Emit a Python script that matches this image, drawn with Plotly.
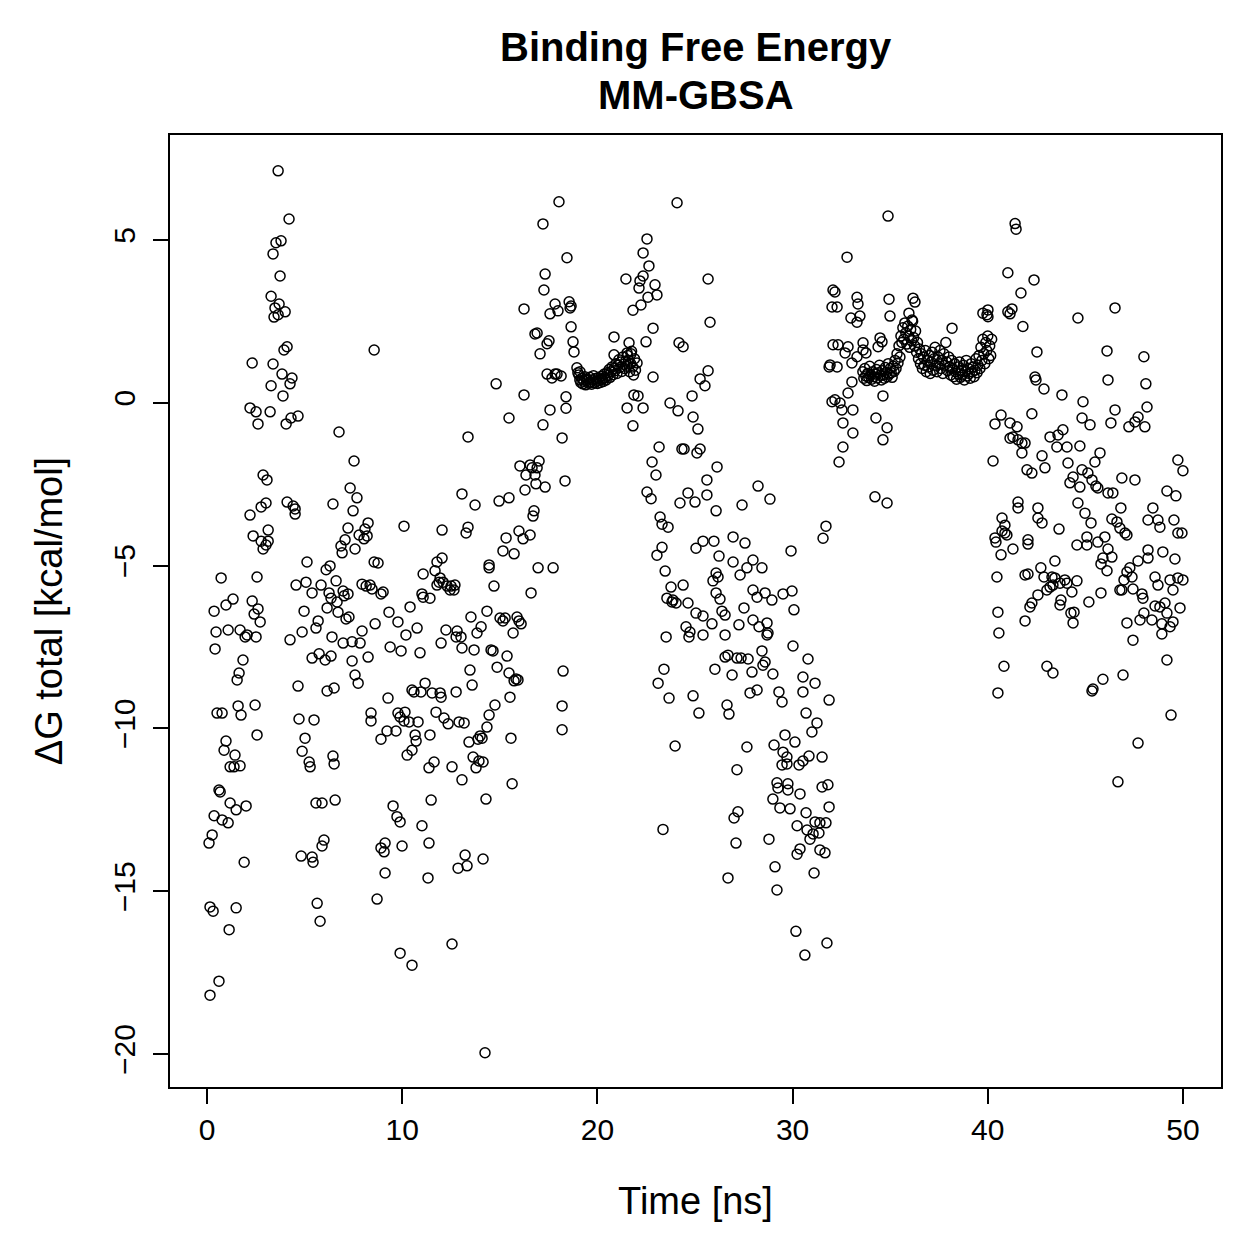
import plotly.graph_objects as go

# ---------------- data (time in ns, dG total in kcal/mol) ----------------
t_seg1 = [0.10,0.15,0.15,0.26,0.31,0.36,0.36,0.46,0.41,0.51,0.61,0.67,0.61,0.72,0.77,0.77,0.87,0.97,0.97,1.08,
          1.08,1.13,1.18,1.18,1.33,1.38,1.43,1.49,1.49,1.54,1.64,1.69,1.59,1.69,1.74,1.84,1.95,1.90,2.00,2.05,
          2.20,2.31,2.20,2.36,2.31,2.41,2.46,2.51,2.51,2.56,2.61,2.56,2.72,2.61,2.77,2.77,2.87,2.87,3.07,3.02,
          3.02,3.13,3.13,3.23,3.28,3.28,3.38,3.38,3.48,3.43,3.53,3.64,3.64,3.69,3.74,3.79,3.84,3.89,4.00,3.94,
          4.10,4.05,4.10,4.25,4.20,4.30,4.35,4.41,4.51,4.51,4.25,4.66]
dg_seg1 = [-13.52,-18.19,-15.48,-13.27,-15.61,-12.68,-6.40,-7.04,-7.56,-9.53,-11.89,-11.95,-17.76,-5.38,-9.53,-12.81,-10.67,-10.39,-6.21,-6.98,
           -12.90,-16.18,-12.29,-11.18,-6.03,-11.18,-10.82,-12.50,-15.51,-8.51,-8.30,-6.98,-9.31,-11.15,-9.59,-7.90,-7.19,-14.11,-12.38,-7.13,
           -0.16,1.22,-3.45,-4.09,-6.09,-6.49,-9.28,-7.19,-0.28,-5.35,-6.33,-10.20,-6.73,-0.65,-3.20,-4.25,-4.49,-2.22,-2.37,-3.08,
           -4.37,-3.91,-4.25,-0.28,0.52,3.27,1.19,4.57,2.91,2.63,4.91,7.12,2.70,3.03,3.89,4.97,0.88,0.21,2.79,1.62,
           1.72,-0.65,-3.05,0.58,5.64,-0.47,0.76,-3.17,-3.26,-3.42,-7.28,-0.41]

t_seg2 = [4.56,4.66,4.71,4.82,4.87,4.87,4.97,5.07,5.02,5.12,5.23,5.28,5.38,5.38,5.38,5.48,5.58,5.58,5.69,5.74,
          5.43,5.64,5.79,5.89,5.99,5.89,5.84,6.10,6.05,6.15,6.15,6.25,6.30,6.35,6.35,6.40,6.51,6.45,6.51,6.56,
          6.45,6.61,6.66,6.71,6.76,6.86,6.92,6.97,7.02,6.97,7.12,7.07,7.22,7.22,7.27,7.33,7.43,7.43,7.58,7.53,
          7.48,7.58,7.74,7.68,7.79,7.84,7.94,7.94,8.04,8.09,8.15,8.20,8.25,8.25,8.35,8.40,8.40,8.45,8.56,8.56,
          8.71,8.76,8.61,8.91,8.91,8.91,9.07,9.12,9.02]
dg_seg2 = [-5.60,-8.70,-9.71,-13.92,-10.70,-7.04,-6.40,-5.51,-10.30,-4.89,-11.03,-11.18,-13.95,-7.84,-5.84,-9.74,-12.29,-6.92,-6.70,-7.71,
           -14.11,-15.37,-15.92,-12.29,-13.43,-13.61,-5.60,-5.13,-7.90,-8.85,-6.30,-5.84,-5.01,-6.00,-7.78,-7.19,-8.76,-10.85,-11.09,-12.20,
           -3.11,-5.47,-6.12,-6.43,-0.90,-4.40,-4.61,-5.78,-5.93,-7.38,-6.64,-4.21,-3.85,-5.87,-6.58,-2.62,-7.34,-7.93,-4.49,-1.79,
           -3.32,-8.36,-8.61,-2.92,-4.06,-7.38,-5.57,-7.01,-4.18,-3.88,-5.63,-4.09,-3.69,-7.81,-5.60,-9.53,-9.77,-5.72,1.62,-4.89,
           -15.24,-4.92,-6.79,-10.33,-5.87,-13.67,-13.79,-13.52,-5.81]

t_seg3 = [9.12,9.22,9.27,9.32,9.53,9.38,9.73,9.68,9.78,9.78,9.89,9.89,9.94,9.99,9.89,10.09,10.14,10.09,10.19,10.25,
          10.35,10.40,10.50,10.50,10.50,10.60,10.66,10.71,10.76,10.81,10.91,10.96,11.01,11.07,11.01,11.17,11.07,11.37,11.32,11.37,
          11.42,11.42,11.48,11.53,11.63,11.68,11.73,11.78,11.78,11.89,11.94,11.94,11.99,11.99,12.04,12.04]
dg_seg3 = [-14.44,-10.08,-9.07,-6.43,-12.38,-7.50,-12.71,-10.08,-6.73,-9.53,-12.87,-9.65,-7.62,-13.61,-16.90,-3.79,-9.50,-9.77,-7.13,-10.82,
           -9.80,-6.27,-8.82,-10.67,-17.27,-8.88,-10.20,-10.39,-6.92,-9.80,-7.68,-8.88,-5.87,-5.97,-12.99,-8.61,-5.26,-13.52,-14.59,-11.21,
           -10.20,-6.00,-12.20,-8.91,-11.03,-5.16,-9.50,-5.60,-4.89,-5.51,-5.38,-8.91,-7.38,-9.04,-3.91,-4.77]

t_seg4 = [12.09,12.14,12.24,12.30,12.35,12.45,12.50,12.55,12.55,12.65,12.70,12.76,12.76,12.81,12.91,12.86,13.06,13.01,13.06,13.06,
          13.17,13.27,13.22,13.32,13.37,13.37,13.42,13.47,13.52,13.58,13.63,13.68,13.73,13.78,13.83,13.88,13.93,13.99,14.04,14.09,
          14.14,14.14,14.24,14.29,14.34,14.34,14.45,14.45,14.55,14.65,14.45,14.70,14.75,14.81,14.86,14.96,15.01,15.16,15.16,15.27,15.32]
dg_seg4 = [-5.51,-9.68,-6.98,-5.63,-9.86,-5.75,-5.63,-11.18,-16.62,-5.75,-5.60,-8.88,-7.19,-7.01,-9.80,-14.29,-2.80,-7.19,-7.53,-11.58,
           -9.83,-4.00,-13.89,-14.22,-3.82,-1.05,-10.42,-8.21,-6.58,-8.67,-10.88,-7.59,-3.14,-11.21,-7.07,-10.33,-11.00,-10.23,-6.88,-10.30,
           -14.01,-11.03,-19.96,-12.17,-6.40,-9.96,-5.07,-4.98,-7.59,-7.62,-9.59,-5.63,-9.28,0.58,-8.12,-3.02,-6.61,-6.70,-4.55,-6.61,-4.15]

t_seg5 = [15.37,15.47,15.52,15.47,15.47,15.68,15.57,15.63,15.73,15.83,15.73,15.88,15.98,15.93,16.03,15.98,16.09,16.19,16.34,16.24,
          16.29,16.55,16.24,16.55,16.65,16.60,16.75,16.70,16.80,16.80,16.91,16.85,16.91,16.96,17.01,17.06,17.21,17.21,17.26,17.32,
          17.32,17.42,17.42,17.57,17.57,17.67,17.52,17.83,17.83,17.93,17.98,17.73,18.03,18.19,18.14,18.19,18.19,18.24,18.34,18.44,
          18.55,18.65,18.60,18.65,18.80,18.95,19.11,18.75,18.39,18.39]
dg_seg5 = [-7.78,-8.30,-9.04,-2.92,-0.47,-7.07,-10.30,-11.70,-8.54,-8.48,-4.64,-6.58,-6.70,-8.51,-1.94,-3.94,-6.79,-4.18,-2.22,0.24,
           -2.68,-4.06,2.88,-1.91,-2.00,-5.84,-3.32,-3.48,2.11,-2.22,-2.00,-2.49,2.14,-5.07,-1.79,1.50,-0.68,5.49,3.46,3.95,
           -2.59,1.81,0.88,-0.22,2.73,0.76,1.90,0.88,3.03,0.88,2.82,-5.07,6.17,-1.08,0.82,-9.31,-10.04,-8.24,-2.40,4.45,
           3.10,2.97,2.91,2.33,1.56,1.07,0.95,1.87,0.18,-0.17]

t_seg6 = [19.00,19.05,19.10,19.15,19.20,19.25,19.30,19.35,19.40,19.45,19.50,19.55,19.60,19.65,19.70,19.75,19.80,19.85,19.90,19.95,
          20.00,20.05,20.10,20.15,20.20,20.25,20.30,20.35,20.40,20.45,20.50,20.55,20.60,20.65,20.70,20.75,20.80,20.85,20.90,20.95,
          21.00,21.05,21.10,21.15,21.20,21.25,21.30,21.35,21.40,21.45,21.50,21.55,21.60,21.65,21.70,21.75,21.80,21.85,21.90,21.95,
          24.08,22.54,22.34,22.64,21.46,22.34,22.18,22.13,22.95,23.05,22.59,25.67,22.23,21.82,25.77,22.85,20.85,22.49,24.18,24.39,
          21.62,20.85,21.52,21.72,22.03,22.85,25.67,25.26,25.51,21.87,22.08,21.52,22.34,21.82,23.72,24.13,24.85,24.90,25.15,23.16,
          24.33,24.44,25.26,25.10,26.13,22.80,23.00,25.61,22.54,22.75,24.23,24.64,25.00,25.61,26.08,23.21,23.31,23.62,23.31,23.05,
          25.41,25.05,25.97,23.47,23.77,24.39,23.56,23.87,24.03,24.64,23.82,25.05,25.41,25.87,24.54,24.74,24.69,25.41,23.52,23.41,
          23.11,24.90,23.67,25.20,23.36,23.98]
dg_seg6 = [0.92,0.85,0.70,0.62,0.75,0.58,0.66,0.80,0.55,0.68,0.72,0.60,0.78,0.64,0.57,0.70,0.83,0.61,0.74,0.66,
           0.59,0.77,0.69,0.62,0.81,0.73,0.65,0.88,0.76,0.70,0.92,0.84,1.02,0.78,0.95,1.10,0.86,1.05,0.98,1.20,
           0.90,1.15,1.32,1.08,1.25,0.96,1.40,1.18,1.05,1.28,1.12,1.45,1.30,0.95,1.20,1.58,1.10,0.85,1.35,1.00,
           6.14,5.03,4.60,4.20,3.80,3.89,3.74,3.52,3.62,3.31,3.24,3.80,3.00,2.84,2.47,2.29,2.02,1.87,1.84,1.72,
           1.84,1.47,1.53,1.50,1.22,0.79,0.98,0.73,0.52,0.24,0.21,-0.16,-0.16,-0.71,-0.01,-0.25,0.21,-0.44,-0.81,-1.36,
           -1.42,-1.42,-1.42,-1.54,-1.97,-1.82,-2.22,-2.37,-2.74,-2.95,-3.08,-2.77,-3.05,-2.83,-3.32,-3.51,-3.73,-3.82,-4.44,-4.68,
           -4.25,-4.47,-4.25,-5.17,-5.66,-5.60,-6.00,-6.06,-6.15,-6.15,-6.12,-6.46,-6.55,-6.79,-6.88,-7.04,-7.19,-7.13,-7.19,-8.18,
           -8.61,-9.00,-9.07,-9.53,-13.10,-10.54]

t_seg7 = [26.08,25.92,26.18,26.08,26.28,26.38,26.54,26.95,27.56,26.23,26.95,27.97,28.43,27.66,27.31,27.41,28.23,28.84,29.92,27.97,
          28.18,28.59,28.94,29.51,29.97,30.07,27.51,27.25,27.97,28.28,28.69,28.74,28.69,26.54,30.02,28.43,28.59,28.48,26.54,26.69,
          27.15,27.36,27.72,26.02,26.90,27.92,28.99,30.79,30.53,31.15,27.82,28.18,29.30,29.46,30.53,31.87,26.64,26.74,30.69,31.25,
          30.99,27.66,29.61,30.12,29.05,29.51,29.71,29.46,29.71,30.33,30.53,30.84,31.51,27.15,29.20,29.76,29.25,29.76,30.38,28.99,
          31.51,31.81,29.35,29.87,30.69,31.87,27.20,27.00,30.23,31.15,31.40,31.71,30.74,31.05,30.89,31.35,28.79,27.10,30.38,30.23,
          31.40,31.66,29.10,31.10,26.69,29.20,30.17,31.76,30.63,31.71,31.56]
dg_seg7 = [-5.23,-5.47,-5.35,-5.84,-6.03,-6.40,-6.52,-4.12,-4.31,-4.71,-4.89,-4.83,-5.07,-5.07,-5.29,-3.14,-2.56,-2.96,-4.55,-5.75,
           -5.97,-5.84,-6.06,-5.87,-5.78,-6.36,-6.30,-6.82,-6.67,-6.88,-6.76,-7.07,-7.13,-7.13,-7.47,-7.62,-7.96,-8.06,-7.81,-7.75,
           -7.84,-7.84,-7.87,-8.18,-8.36,-8.27,-8.33,-7.87,-8.42,-8.61,-8.91,-8.82,-8.88,-9.19,-8.88,-9.13,-9.28,-9.56,-9.53,-9.83,
           -10.11,-10.57,-10.20,-10.42,-10.51,-10.73,-10.88,-11.12,-11.09,-11.12,-11.00,-10.85,-10.88,-11.27,-11.67,-11.70,-11.83,-11.89,-12.01,-12.17,
           -11.80,-11.73,-12.44,-12.47,-12.59,-12.41,-12.56,-12.75,-12.99,-12.87,-12.90,-12.90,-13.12,-13.24,-13.40,-13.21,-13.40,-13.52,-13.70,-13.86,
           -13.73,-13.82,-14.25,-14.44,-14.59,-14.96,-16.23,-16.59,-16.96,-3.79,-4.16]

t_seg8 = [34.89,32.79,32.07,32.17,32.02,32.28,33.30,33.35,34.94,36.17,36.27,34.99,32.99,33.45,33.30,35.96,36.12,38.17,39.75,40.01,
          32.07,32.33,32.84,31.92,32.28,32.69,33.04,33.30,33.61,33.61,33.76,34.48,34.58,34.38,33.04,32.84,32.17,32.43,32.53,33.09,
          32.58,33.09,32.58,32.38,34.63,34.27,34.84,34.63,34.22,34.84,32.02,31.87,
          33.60,33.65,33.70,33.75,33.80,33.85,33.90,33.95,34.00,34.05,34.10,34.15,34.20,34.25,34.30,34.35,34.40,34.45,34.50,34.55,
          34.60,34.65,34.70,34.75,34.80,34.85,34.90,34.95,35.00,35.05,35.10,35.15,35.20,35.25,35.30,35.35,35.40,35.45,35.50,35.55,
          35.60,35.65,35.70,35.75,35.80,35.85,35.90,35.95,36.00,36.05,36.10,36.15,36.20,36.25,36.30,36.35,36.40,36.45,36.50,36.55,
          36.60,36.65,36.70,36.75,36.80,36.85,36.90,36.95,37.00,37.05,37.10,37.15,37.20,37.25,37.30,37.35,37.40,37.45,37.50,37.55,
          37.60,37.65,37.70,37.75,37.80,37.85,37.90,37.95,38.00,38.05,38.10,38.15,38.20,38.25,38.30,38.35,38.40,38.45,38.50,38.55,
          38.60,38.65,38.70,38.75,38.80,38.85,38.90,38.95,39.00,39.05,39.10,39.15,39.20,39.25,39.30,39.35,39.40,39.45,39.50,39.55,
          39.60,39.65,39.70,39.75,39.80,39.85,39.90,39.95,40.00,40.05,40.10,40.15,40.20,39.96,40.01]
dg_seg8 = [5.73,4.47,3.46,3.40,2.94,2.94,3.24,3.03,3.18,3.21,3.09,2.66,2.60,2.66,2.47,2.75,2.54,2.29,2.75,2.85,
           1.78,1.78,1.72,1.16,1.10,1.53,1.22,1.41,1.84,1.62,1.53,1.99,1.87,1.72,0.64,0.30,0.09,-0.01,-0.22,-0.22,
           -0.62,-0.93,-1.36,-1.82,0.21,-0.47,-0.77,-1.14,-2.89,-3.08,0.03,1.10,
           0.95,0.75,1.05,0.82,0.68,0.90,0.78,1.12,0.85,0.72,0.95,0.80,0.66,0.88,1.02,0.76,0.92,1.15,0.84,0.70,
           0.98,0.86,0.75,1.08,0.93,0.80,1.20,0.88,1.05,0.92,0.78,1.12,0.96,1.30,1.05,1.50,1.22,1.75,1.40,2.05,
           1.85,2.30,1.95,2.45,2.15,1.80,2.35,2.05,1.70,2.25,1.90,2.50,2.00,1.75,2.20,1.55,1.85,1.35,1.65,1.20,
           1.50,1.05,1.40,1.15,1.60,0.95,1.30,1.10,1.45,0.90,1.25,1.55,1.00,1.35,1.70,1.15,0.95,1.40,1.20,1.60,
           1.05,1.30,0.90,1.50,1.15,1.85,1.25,0.98,1.40,1.10,0.85,1.30,1.05,0.80,1.20,0.95,0.72,1.10,0.88,1.25,
           0.78,1.00,0.85,1.15,0.70,0.95,1.30,0.82,1.05,0.90,0.75,1.20,0.95,1.10,0.80,1.00,1.35,0.92,1.15,1.45,
           1.05,1.70,1.30,1.95,1.50,1.20,1.85,1.60,2.05,1.35,1.75,1.45,1.95,2.70,2.64]

t_seg9 = [41.03,42.37,41.70,41.03,41.24,41.14,41.80,44.62,46.52,42.52,46.11,48.00,42.42,42.47,46.16,42.88,43.80,48.10,44.88,48.16,
          42.26,40.68,40.37,41.14,41.50,44.83,45.24,46.52,46.31,47.70,47.54,47.23,48.05,41.14,41.29,41.55,41.75,41.91,41.75,43.19,
          43.60,43.85,43.54,44.06,44.72,40.27,42.78,42.93,42.01,42.26,44.11,44.37,44.21,44.72,44.83,45.13,45.34,45.54,45.64,45.49,
          45.75,46.87,47.54,46.16,46.41,49.18,49.64,49.74,50.00,41.55,41.55,42.57,42.57,42.78,43.65,44.62,44.98,45.29,46.82,46.36,
          46.62,46.77,47.03,48.46,48.21,48.72,48.82,49.54,49.74,40.73,40.88,40.88,40.37,42.06,47.13,49.95,40.98,40.73,40.42,41.29,
          42.06,40.68,44.57,45.08,45.08,45.64,46.00,46.16,45.90,46.36,45.80,46.11,47.70,48.21,48.21,48.97,49.59,43.44,40.47,41.91,
          42.06,42.72,42.88,43.29,43.44,43.95,44.57,43.03,43.19,43.34,43.70,44.06,44.31,42.57,42.26,42.16,41.91,40.52,40.57,43.75,
          43.70,44.26,44.42,44.37,45.18,45.80,46.87,47.13,47.28,47.39,47.44,47.90,47.95,47.13,47.44,47.80,48.00,48.41,48.57,48.82,
          49.08,49.18,48.92,48.92,49.34,49.49,48.57,48.72,49.34,49.49,49.74,50.00,49.85,46.77,46.98,49.18,40.83,43.03,43.34,45.90,
          45.34,45.39,46.93,40.52,49.39,47.70,46.67,41.40,41.45]
dg_seg9 = [3.99,3.77,3.37,2.79,2.88,2.73,2.34,2.60,2.91,1.56,1.59,1.41,0.79,0.70,0.70,0.42,0.24,0.58,0.03,-0.13,
           -0.34,-0.38,-0.65,-0.62,-0.74,-0.47,-0.68,-0.22,-0.62,-0.44,-0.59,-0.74,-0.74,-1.09,-1.05,-1.14,-1.24,-1.24,-1.54,-1.05,
           -0.99,-0.83,-1.36,-1.36,-1.33,-1.79,-1.63,-2.00,-2.06,-2.16,-1.85,-2.28,-2.46,-2.59,-2.06,-2.16,-2.37,-2.56,-2.62,-1.82,
           -1.54,-2.31,-2.37,-2.77,-2.77,-2.71,-2.86,-1.76,-2.09,-3.05,-3.23,-3.23,-3.54,-3.69,-3.88,-3.08,-3.39,-3.69,-3.23,-3.57,
           -3.66,-3.85,-4.00,-3.23,-3.60,-3.60,-3.82,-3.60,-4.00,-3.54,-3.76,-4.00,-4.15,-4.21,-4.06,-4.00,-4.06,-3.94,-4.28,-4.49,
           -4.34,-4.67,-4.37,-4.12,-4.37,-4.28,-4.12,-4.49,-4.77,-4.74,-4.95,-5.16,-4.86,-4.52,-4.77,-4.58,-4.80,-4.86,-5.35,-5.29,
           -5.26,-5.07,-5.35,-5.35,-5.38,-5.44,-5.47,-5.75,-5.66,-5.60,-5.54,-5.54,-5.81,-5.90,-6.15,-6.27,-6.70,-6.43,-7.07,-6.06,
           -6.21,-6.46,-6.43,-6.76,-6.12,-5.84,-5.75,-5.20,-5.07,-5.35,-5.72,-5.87,-6.00,-6.76,-7.29,-6.67,-6.46,-6.67,-6.24,-6.27,
           -6.15,-6.46,-6.79,-7.10,-6.88,-6.73,-5.35,-5.60,-5.44,-5.75,-5.38,-5.44,-6.30,-5.75,-5.44,-7.90,-8.09,-8.09,-8.30,-8.49,
           -8.85,-8.79,-8.36,-8.91,-9.59,-10.45,-11.64,5.50,5.33]

time_ns = t_seg1 + t_seg2 + t_seg3 + t_seg4 + t_seg5 + t_seg6 + t_seg7 + t_seg8 + t_seg9
dg_total = dg_seg1 + dg_seg2 + dg_seg3 + dg_seg4 + dg_seg5 + dg_seg6 + dg_seg7 + dg_seg8 + dg_seg9

x_ticks = [0, 10, 20, 30, 40, 50]
y_ticks = [-20, -15, -10, -5, 0, 5]
title_lines = ["Binding Free Energy", "MM-GBSA"]

FONT = "Liberation Sans, Arial, Helvetica, sans-serif"

fig = go.Figure(go.Scatter(
    x=time_ns, y=dg_total, mode="markers",
    marker=dict(symbol="circle-open", size=10, color="black", line=dict(width=1.5, color="black")),
    showlegend=False,
))

axis_common = dict(
    showgrid=False, zeroline=False, showline=True, mirror=True,
    linecolor="black", linewidth=2, ticks="outside", ticklen=15, tickwidth=2,
    tickcolor="black", tickfont=dict(family=FONT, size=30, color="black"),
)

fig.update_layout(
    width=1259, height=1259,
    margin=dict(l=170, r=38, t=135, b=172),
    paper_bgcolor="white", plot_bgcolor="white",
    font=dict(family=FONT, color="black"),
    xaxis=dict(range=[-1.9, 51.95], tickvals=x_ticks, ticklabelstandoff=0,
               title=dict(text="Time [ns]", font=dict(family=FONT, size=38), standoff=42),
               **axis_common),
    yaxis=dict(range=[-21.01, 8.22], tickvals=y_ticks, tickangle=-90, ticklabelstandoff=6,
               title=dict(text="ΔG total [kcal/mol]", font=dict(family=FONT, size=38), standoff=34),
               **axis_common),
)

plot_h = 1259 - 135 - 172
anns = []
for text, py in zip(title_lines, [47, 95]):
    anns.append(dict(text="<b>%s</b>" % text, x=0.5, xref="paper", yref="paper",
                     y=1 + (135 - py) / plot_h, yanchor="middle",
                     showarrow=False, font=dict(family=FONT, size=40)))
fig.update_layout(annotations=anns)

fig.write_html("out.html")
